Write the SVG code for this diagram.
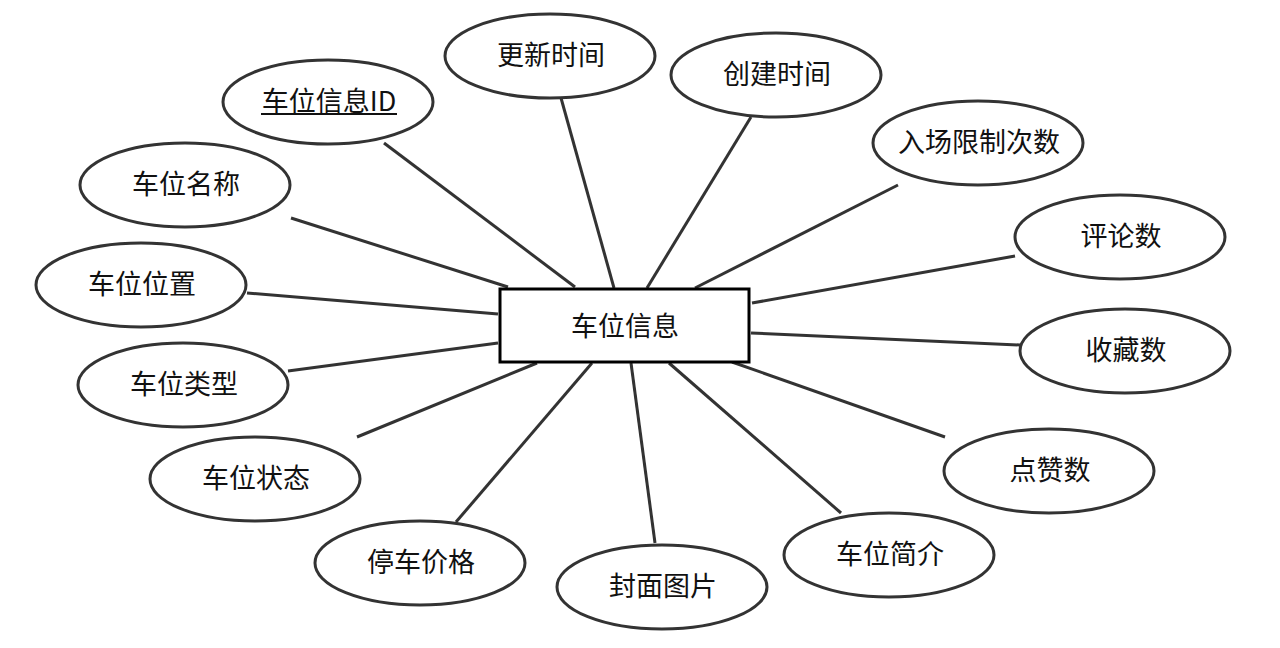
<svg xmlns="http://www.w3.org/2000/svg" width="1280" height="648" viewBox="0 0 1280 648">
<style>
.attr ellipse{fill:#fff;stroke:#333;stroke-width:3}
.ent rect{fill:#fff;stroke:#000;stroke-width:3}
text{font-family:"Microsoft YaHei","Noto Sans CJK SC",sans-serif;font-size:27px;fill:#111;text-anchor:middle;dominant-baseline:central}
#connectors line{stroke:#333;stroke-width:3}
</style>
<rect width="1280" height="648" fill="#fff"/>
<g id="connectors">
<line x1="561" y1="98" x2="614" y2="288"/>
<line x1="384" y1="143" x2="575" y2="287"/>
<line x1="291" y1="218" x2="508" y2="287"/>
<line x1="247" y1="293" x2="498" y2="314"/>
<line x1="288" y1="371" x2="498" y2="343"/>
<line x1="357" y1="437" x2="537" y2="363"/>
<line x1="456" y1="522" x2="592" y2="363"/>
<line x1="631" y1="363" x2="655" y2="543"/>
<line x1="669" y1="363" x2="841" y2="513"/>
<line x1="732" y1="362" x2="945" y2="437"/>
<line x1="751" y1="333" x2="1020" y2="345"/>
<line x1="752" y1="303" x2="1015" y2="256"/>
<line x1="695" y1="288" x2="898" y2="185"/>
<line x1="647" y1="288" x2="751" y2="117"/>
</g>
<g id="entity" class="ent"><rect x="500" y="289" width="249" height="73"/><text x="625" y="324">车位信息</text></g>
<g id="a-gengxin" class="attr"><ellipse cx="550" cy="56" rx="105" ry="42"/><text x="551" y="53">更新时间</text></g>
<g id="a-id" class="attr"><ellipse cx="328" cy="102" rx="105" ry="42"/><text x="329" y="99">车位信息ID</text><line x1="261" y1="114" x2="397" y2="114" stroke="#111" stroke-width="2"/></g>
<g id="a-mingcheng" class="attr"><ellipse cx="185" cy="185" rx="105" ry="42"/><text x="186" y="182">车位名称</text></g>
<g id="a-weizhi" class="attr"><ellipse cx="141" cy="285" rx="105" ry="42"/><text x="142" y="282">车位位置</text></g>
<g id="a-leixing" class="attr"><ellipse cx="183" cy="385" rx="105" ry="42"/><text x="184" y="382">车位类型</text></g>
<g id="a-zhuangtai" class="attr"><ellipse cx="255" cy="479" rx="105" ry="42"/><text x="256" y="476">车位状态</text></g>
<g id="a-jiage" class="attr"><ellipse cx="420" cy="563" rx="105" ry="42"/><text x="421" y="560">停车价格</text></g>
<g id="a-fengmian" class="attr"><ellipse cx="662" cy="587" rx="105" ry="42"/><text x="663" y="584">封面图片</text></g>
<g id="a-jianjie" class="attr"><ellipse cx="889" cy="555" rx="105" ry="42"/><text x="890" y="552">车位简介</text></g>
<g id="a-dianzan" class="attr"><ellipse cx="1049" cy="471" rx="105" ry="42"/><text x="1050" y="468">点赞数</text></g>
<g id="a-shoucang" class="attr"><ellipse cx="1125" cy="351" rx="105" ry="42"/><text x="1126" y="348">收藏数</text></g>
<g id="a-pinglun" class="attr"><ellipse cx="1120" cy="237" rx="105" ry="42"/><text x="1121" y="234">评论数</text></g>
<g id="a-xianzhi" class="attr"><ellipse cx="978" cy="143" rx="105" ry="42"/><text x="979" y="140">入场限制次数</text></g>
<g id="a-chuangjian" class="attr"><ellipse cx="776" cy="75" rx="105" ry="42"/><text x="777" y="72">创建时间</text></g>
</svg>
